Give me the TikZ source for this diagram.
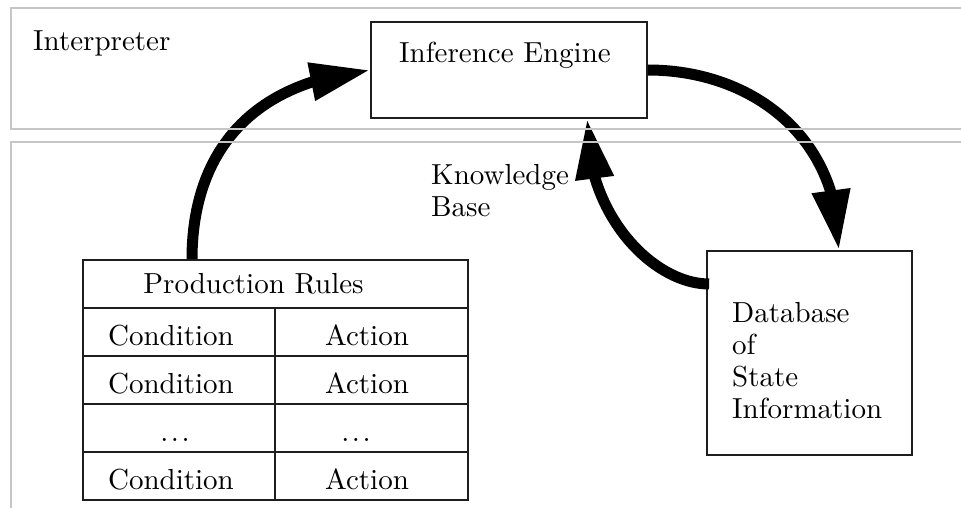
\documentclass[tikz,border=0pt]{standalone}
\usepackage{fontspec}
\setmainfont{lmroman10-regular.otf}
\usetikzlibrary{arrows.meta,bending,calc}
\definecolor{panelgray}{RGB}{198,198,198}
\definecolor{boxline}{RGB}{30,30,30}
\newcommand{\rowdots}{.\kern2.5pt.\kern2.5pt.}
\begin{document}
\begin{tikzpicture}[x=1pt,y=-1pt,
  font=\rmfamily\fontsize{29}{32}\selectfont,
  panel/.style={draw=panelgray, line width=1.6pt},
  box/.style={draw=boxline, line width=1.8pt, inner sep=0pt},
  txt/.style={inner sep=0pt, anchor=base},
  gridline/.style={draw=boxline, line width=1.8pt},
  flow/.style={line width=11pt, -{Triangle[length=60pt,width=36pt,flex]}}]
\useasboundingbox (0,0) rectangle (961,508);

% interpreter: inference engine
\node[box, minimum width=276pt, minimum height=96pt] (ie) at (509,70) {};
\node[txt] (ielabel) at (505,63) {Inference Engine};

% database of state information
\node[box, minimum width=205pt, minimum height=204pt] (db) at (809.5,353) {};
\node[inner sep=0pt, anchor=north west, align=left] (dblabel) at (732,302)
  {Database\\of\\State\\Information};

% production rules table
\node[box, minimum width=385pt, minimum height=240pt] (rules) at (275.5,380) {};
\draw[gridline] (83,308) -- (468,308) (83,356) -- (468,356)
  (83,404) -- (468,404) (83,452) -- (468,452) (275,308) -- (275,500);
\node[txt] (hdr) at (253.5,293) {Production Rules};
\node[txt] (cond1) at (171,345) {Condition};
\node[txt] (act1) at (367,345) {Action};
\node[txt] (cond2) at (171,393) {Condition};
\node[txt] (act2) at (367,393) {Action};
\node[txt] (dots1) at (175,441) {\rowdots};
\node[txt] (dots2) at (356,441) {\rowdots};
\node[txt] (cond3) at (171,489) {Condition};
\node[txt] (act3) at (367,489) {Action};

% flow between the parts
\draw[flow] ($(rules.north)+(-83.5,0)$) .. controls +(0,-90) and +(-135,14) .. (ie.west);
\draw[flow] (ie.east) .. controls +(103,0) and +(1,-114) .. ($(db.north)+(29.5,0)$);
\draw[flow] ($(db.west)+(3,-69)$) .. controls +(-55,0) and +(-2,97) .. ($(ie.south)+(78,0)$);

% panels, drawn over the arrows
\draw[panel] (961,8) -- (11,8) -- (11,129) -- (961,129);
\draw[panel] (961,142) -- (11,142) -- (11,508);
\node[txt, anchor=base west] (interp) at (33,51) {Interpreter};
\node[inner sep=0pt, anchor=north west, align=left] (kb) at (431,164) {Knowledge\\Base};
\end{tikzpicture}
\end{document}
